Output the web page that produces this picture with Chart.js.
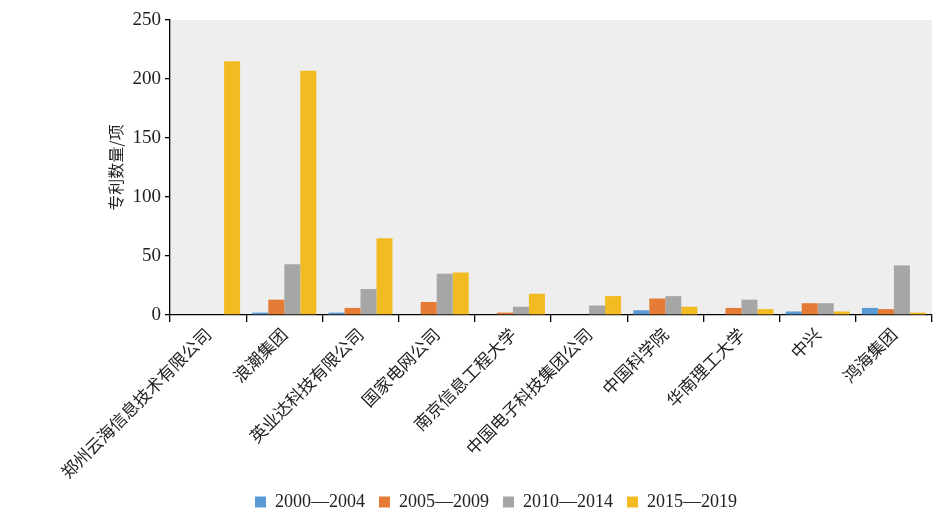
<!DOCTYPE html>
<html>
<head>
<meta charset="utf-8">
<script src="https://cdn.jsdelivr.net/npm/chart.js@4/dist/chart.umd.min.js"></script>
<style>
  html, body { margin: 0; padding: 0; background: #fff; }
  #wrap { width: 945px; height: 522px; }
</style>
</head>
<body>
<div id="wrap"><canvas id="chart" width="945" height="522"></canvas></div>
<script>
// categorias e valores
const companies = ["郑州云海信息技术有限公司", "浪潮集团", "英业达科技有限公司", "国家电网公司",
  "南京信息工程大学", "中国电子科技集团公司", "中国科学院", "华南理工大学", "中兴", "鸿海集团"];
const periods = ["2000—2004", "2005—2009", "2010—2014", "2015—2019"];
const p2000 = [0, 2, 2, 0, 0, 0, 4, 0, 3, 6];
const p2005 = [0, 13, 6, 11, 2, 0, 14, 6, 10, 5];
const p2010 = [0, 43, 22, 35, 7, 8, 16, 13, 10, 42];
const p2015 = [215, 207, 65, 36, 18, 16, 7, 5, 3, 2];
const colors = ["#5B9BD5", "#E57B35", "#A6A6A5", "#F2BB22"];
const yTicks = [0, 50, 100, 150, 200, 250];

const serif = "'Liberation Serif', 'DejaVu Serif', serif";
const cjk = "'Noto Sans CJK SC', serif";

// fundo cinza da área do gráfico
const plotBg = {
  id: "plotBg",
  beforeDraw(chart) {
    const a = chart.chartArea, ctx = chart.ctx;
    ctx.save();
    ctx.fillStyle = "#EDEEED";
    ctx.fillRect(a.left, a.top, a.right - a.left, a.bottom - a.top);
    ctx.restore();
  }
};

const seriesData = [p2000, p2005, p2010, p2015];

new Chart(document.getElementById("chart"), {
  type: "bar",
  data: {
    labels: companies,
    datasets: periods.map((p, i) => ({
      label: p,
      data: seriesData[i],
      backgroundColor: colors[i],
      categoryPercentage: 0.84,
      barPercentage: 1
    }))
  },
  options: {
    responsive: false,
    animation: false,
    layout: { padding: { top: 20, right: 13, left: 60, bottom: 1 } },
    plugins: {
      legend: {
        position: "bottom",
        labels: {
          boxWidth: 11, boxHeight: 11, padding: 14,
          color: "#222",
          font: { family: serif, size: 18 }
        }
      },
      tooltip: { enabled: false }
    },
    scales: {
      x: {
        grid: { drawOnChartArea: false, color: "#000", tickLength: 7, lineWidth: 1.3 },
        border: { color: "#000", width: 1.3 },
        ticks: {
          color: "#222", maxRotation: 45, minRotation: 45, padding: 2,
          font: { family: cjk, size: 17 }
        },
        afterFit(s) { s.height = 164; }
      },
      y: {
        min: 0, max: 250,
        afterBuildTicks(s) { s.ticks = yTicks.map(v => ({ value: v })); },
        grid: { drawOnChartArea: false, color: "#000", tickLength: 5, lineWidth: 1.3 },
        border: { color: "#000", width: 1.3 },
        ticks: { color: "#222", padding: 4, font: { family: serif, size: 19 } },
        title: {
          display: true, text: "专利数量/项", color: "#222",
          font: { family: cjk, size: 16 }, padding: { top: 46, bottom: 0 }
        },
        afterFit(s) { s.width = 110; }
      }
    }
  },
  plugins: [plotBg]
});
</script>
</body>
</html>
